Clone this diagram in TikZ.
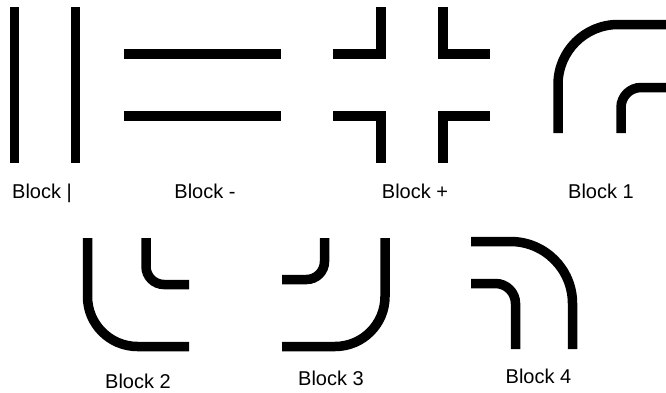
\documentclass[tikz,border=0pt]{standalone}
\usepackage{fontspec}
\setmainfont{Liberation Sans}
\usepackage{tikz}

\begin{document}
\begin{tikzpicture}[
  x=1pt, y=-1pt,
  font=\fontsize{20}{24}\selectfont,
  pipe/.style={draw, line width=9.5pt, line cap=butt},
  lbl/.style={anchor=base, inner sep=0pt}]
\useasboundingbox (0,0) rectangle (666,392);
% Block |
\draw[pipe] (14.5,7) -- (14.5,163);
\draw[pipe] (75.5,7) -- (75.5,163);
\node[lbl] (lbar) at (42,198) {Block |};
% Block -
\draw[pipe] (124,54) -- (281,54);
\draw[pipe] (124,116) -- (281,116);
\node[lbl] (ldash) at (205,198) {Block -};
% Block +
\draw[pipe] (333,54) -| (381,7);
\draw[pipe] (490,54) -| (443,7);
\draw[pipe] (333,116) -| (381,163);
\draw[pipe] (490,116) -| (443,163);
\node[lbl] (lplus) at (415,198) {Block +};
% Block 1
\draw[pipe, rounded corners=60pt] (558,133) |- (666,24.5);
\draw[pipe, rounded corners=20pt] (621,133) |- (666,87.5);
\node[lbl] (lone) at (601,198) {Block 1};
% Block 2
\draw[pipe, rounded corners=50pt] (87.5,238) |- (189,346.5);
\draw[pipe, rounded corners=18pt] (146,238) |- (189,284.5);
\node[lbl] (ltwo) at (138,388) {Block 2};
% Block 3
\draw[pipe, rounded corners=50pt] (385,238) |- (282,346.5);
\draw[pipe, rounded corners=18pt] (324.5,238) |- (282,279.5);
\node[lbl] (lthree) at (331,385) {Block 3};
% Block 4
\draw[pipe, rounded corners=62pt] (471,241.5) -| (572.5,349);
\draw[pipe, rounded corners=20pt] (471,283.5) -| (515.5,349);
\node[lbl] (lfour) at (538.5,383) {Block 4};
\end{tikzpicture}
\end{document}
